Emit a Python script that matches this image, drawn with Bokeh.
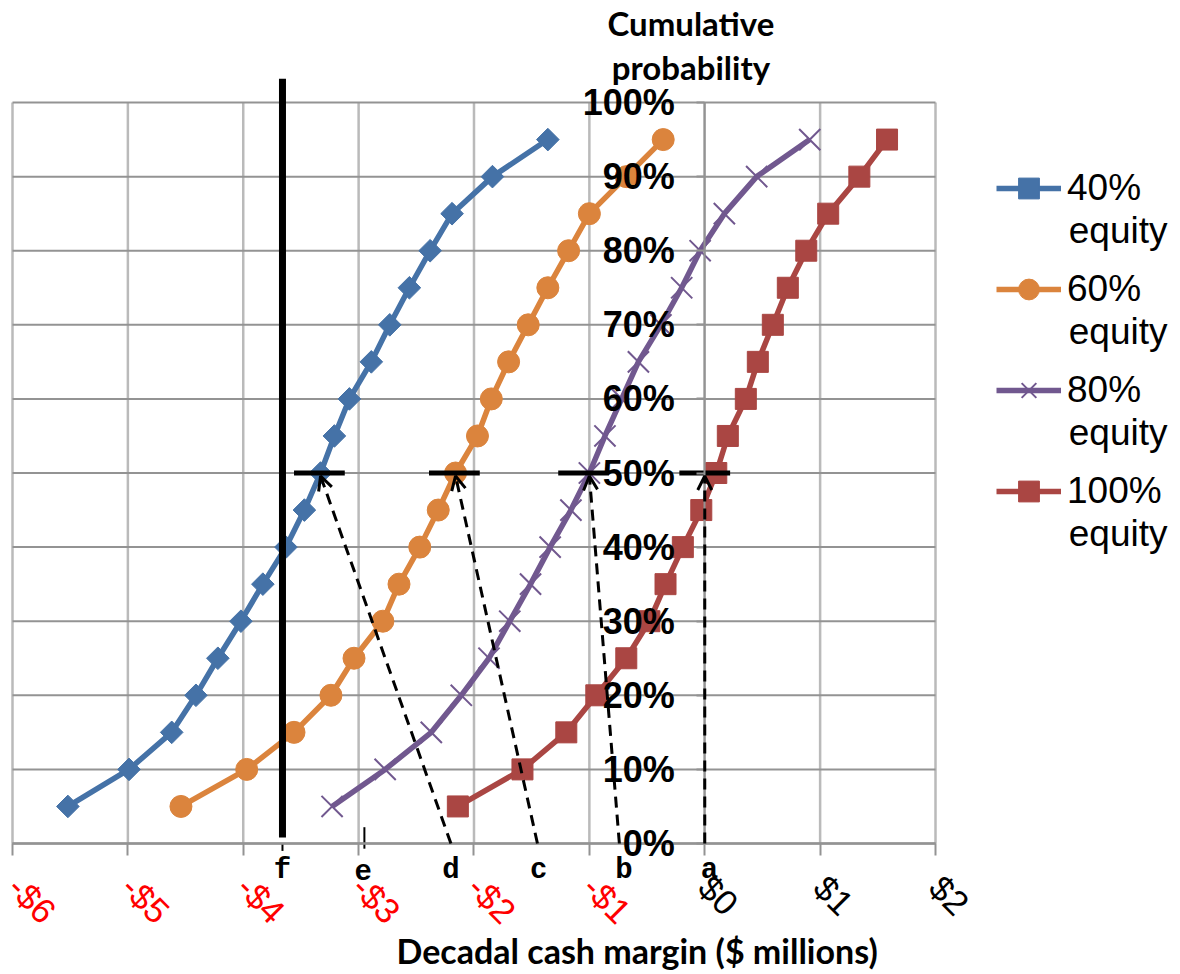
from math import pi

from bokeh.embed import file_html
from bokeh.models import (Arrow, ColumnDataSource, FixedTicker, Label, Legend,
                          LegendItem, LinearAxis, OpenHead, Range1d)
from bokeh.plotting import figure
from bokeh.resources import INLINE

# Cumulative probability (%) of each simulated decadal cash margin ($ millions)
cum_prob = [5, 10, 15, 20, 25, 30, 35, 40, 45, 50, 55, 60, 65, 70, 75, 80, 85, 90, 95]
equity_40 = [-5.52, -4.99, -4.62, -4.41, -4.22, -4.02, -3.83, -3.63, -3.47, -3.33,
             -3.21, -3.08, -2.89, -2.73, -2.56, -2.38, -2.19, -1.84, -1.36]
equity_60 = [-4.54, -3.97, -3.56, -3.24, -3.04, -2.79, -2.65, -2.47, -2.31, -2.16,
             -1.97, -1.85, -1.70, -1.53, -1.36, -1.18, -1.00, -0.68, -0.36]
equity_80 = [-3.23, -2.77, -2.37, -2.11, -1.87, -1.69, -1.51, -1.34, -1.16, -1.00,
             -0.865, -0.72, -0.575, -0.38, -0.20, -0.04, 0.17, 0.45, 0.91]
equity_100 = [-2.14, -1.58, -1.20, -0.94, -0.68, -0.48, -0.34, -0.19, -0.03, 0.10,
              0.20, 0.356, 0.46, 0.59, 0.72, 0.88, 1.07, 1.34, 1.58]

series_pct = ["40%", "60%", "80%", "100%"]
series_suffix = "equity"

# Median markers and the arrows that drop from them to the lettered points
median_prob = 50
median_bar_center = [-3.34, -2.17, -1.05, 0.0]
median_bar_half = 0.22
arrow_tip_x = [-3.33, -2.16, -1.00, 0.0]
arrow_base_x = [-2.20, -1.45, -0.74, 0.0]

point_letters = ["f", "e", "d", "c", "b", "a"]
point_letter_x = [-3.66, -2.96, -2.20, -1.44, -0.70, 0.04]
threshold_x = -3.66
e_mark_x = -2.95

x_ticks = [-6, -5, -4, -3, -2, -1, 0, 1, 2]
x_tick_labels = ["-$6", "-$5", "-$4", "-$3", "-$2", "-$1", "$0", "$1", "$2"]
y_ticks = [0, 10, 20, 30, 40, 50, 60, 70, 80, 90, 100]
y_tick_labels = ["0%", "10%", "20%", "30%", "40%", "50%", "60%", "70%", "80%", "90%", "100%"]

BLUE, ORANGE, PURPLE, RED = "#4572A7", "#DB843D", "#71588F", "#AA4643"
GRID_H, GRID_V = "#939393", "#bababa"

# The frame fills the whole canvas; the data window sits inside it so that
# titles, letters and the legend can be drawn around it.
p = figure(width=1180, height=974,
           x_range=Range1d(-6.104, 4.1235), y_range=Range1d(-17.68, 113.77),
           output_backend="svg", toolbar_location=None,
           x_axis_location=None, y_axis_location=None,
           min_border_left=0, min_border_right=0, min_border_top=0,
           min_border_bottom=0, outline_line_color=None)
p.grid.visible = False

# grid lines
p.segment(x0=x_ticks, y0=y_ticks[0], x1=x_ticks, y1=y_ticks[-1], line_color=GRID_V,
          line_width=2.5, level="underlay")
p.segment(x0=x_ticks[0], y0=y_ticks, x1=x_ticks[-1], y1=y_ticks, line_color=GRID_H,
          line_width=2, level="underlay")

# y axis crossing at $0
yax = LinearAxis(fixed_location=0, ticker=FixedTicker(ticks=y_ticks),
                 major_label_overrides=dict(zip(y_ticks, y_tick_labels)),
                 bounds=(y_ticks[0], y_ticks[-1]))
yax.axis_line_color = GRID_H
yax.axis_line_width = 2
yax.major_tick_line_color = GRID_H
yax.major_tick_line_width = 2
yax.major_tick_out = 8
yax.major_tick_in = 0
yax.minor_tick_line_color = None
yax.major_label_text_font = "Liberation Sans"
yax.major_label_text_font_style = "bold"
yax.major_label_text_font_size = "36px"
yax.major_label_text_color = "black"
yax.major_label_standoff = 22
p.add_layout(yax, "left")

# x axes crossing at 0%: red labels for losses, black for gains
neg = [(t, l) for t, l in zip(x_ticks, x_tick_labels) if t < 0]
pos = [(t, l) for t, l in zip(x_ticks, x_tick_labels) if t >= 0]
for pairs, color in ((neg, "red"), (pos, "black")):
    ax = LinearAxis(fixed_location=0, ticker=FixedTicker(ticks=[t for t, _ in pairs]),
                    major_label_overrides=dict(pairs), bounds=(x_ticks[0], x_ticks[-1]))
    ax.axis_line_color = GRID_H
    ax.axis_line_width = 2
    ax.major_tick_line_color = GRID_H
    ax.major_tick_line_width = 2
    ax.major_tick_out = 12
    ax.major_tick_in = 0
    ax.minor_tick_line_color = None
    ax.major_label_orientation = -pi / 4
    ax.major_label_text_font = "Liberation Sans"
    ax.major_label_text_font_size = "35px"
    ax.major_label_text_color = color
    ax.major_label_standoff = 26
    p.add_layout(ax, "below")

items = []
for xs, color, marker, size, name in (
        (equity_40, BLUE, "square", 16, series_pct[0]),
        (equity_60, ORANGE, "circle", 22, series_pct[1]),
        (equity_80, PURPLE, "x", 30, series_pct[2]),
        (equity_100, RED, "square", 21, series_pct[3])):
    ln = p.line(xs, cum_prob, line_color=color, line_width=5.5)
    if marker == "x":
        mk = p.scatter(xs, cum_prob, marker="x", size=size, line_color=color, line_width=2)
    else:
        mk = p.scatter(xs, cum_prob, marker=marker, size=size, fill_color=color,
                       line_color=color, angle=pi / 4 if color == BLUE else 0)
    items.append(LegendItem(label=name, renderers=[ln, mk]))

# loss threshold line
p.segment(x0=threshold_x, y0=0.8, x1=threshold_x, y1=103.2, line_color="black", line_width=7)
p.segment(x0=threshold_x, y0=0, x1=threshold_x, y1=-1.0, line_color="black", line_width=2)
p.segment(x0=e_mark_x, y0=-0.7, x1=e_mark_x, y1=2.2, line_color="black", line_width=2)

# median bars
p.segment(x0=[c - median_bar_half for c in median_bar_center], y0=median_prob,
          x1=[c + median_bar_half for c in median_bar_center], y1=median_prob,
          line_color="black", line_width=5)

arrow_src = ColumnDataSource(dict(x0=arrow_base_x, y0=[0] * 4, x1=arrow_tip_x,
                                  y1=[median_prob - 0.4] * 4))
p.add_layout(Arrow(source=arrow_src, x_start="x0", y_start="y0", x_end="x1", y_end="y1",
                   line_color="black", line_width=3, line_dash="11 7",
                   end=OpenHead(size=14, line_width=3, line_color="black")))

for letter, lx in zip(point_letters, point_letter_x):
    p.add_layout(Label(x=lx, y=-3.6, text=letter, text_align="center",
                       text_baseline="alphabetic", text_font="Liberation Mono",
                       text_font_style="bold", text_font_size="29px", text_color="black"))

p.add_layout(Label(x=-0.12, y=107.8, text="Cumulative\nprobability", text_align="center",
                   text_baseline="middle", text_font="Lato", text_font_style="bold",
                   text_font_size="33px", text_color="black", text_line_height=1.1))
p.add_layout(Label(x=-0.55, y=-14.5, text="Decadal cash margin  ($ millions)",
                   text_align="center", text_baseline="middle", text_font="Lato",
                   text_font_style="bold", text_font_size="34px", text_color="black"))

legend = Legend(items=items, location=(996, 457), glyph_width=65, glyph_height=52,
                label_text_font="Liberation Sans", label_text_font_size="37px",
                label_text_color="black", label_standoff=6, spacing=49, padding=10,
                margin=0, border_line_color=None, background_fill_alpha=0)
p.add_layout(legend, "center")

# second line of each legend entry
for i in range(len(series_pct)):
    p.add_layout(Label(x=3.155, y=82.7 - 13.63 * i, text=series_suffix, text_align="left",
                       text_baseline="middle", text_font="Liberation Sans",
                       text_font_size="37px", text_color="black"))

with open("out.html", "w") as f:
    f.write(file_html(p, INLINE))
